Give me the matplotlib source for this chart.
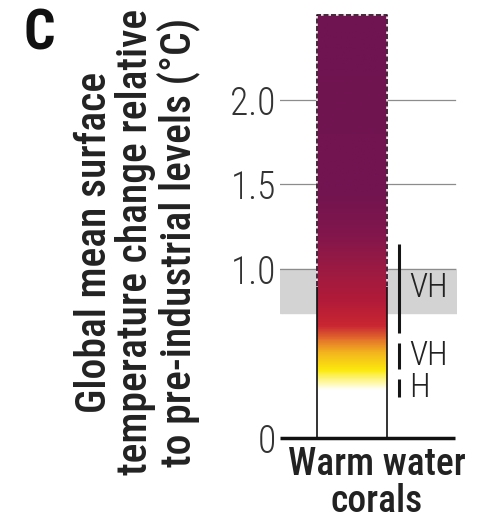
import matplotlib
matplotlib.use('agg')
import matplotlib.pyplot as plt
import numpy as np
from matplotlib.colors import LinearSegmentedColormap

plt.rcParams['font.family'] = ['Roboto Condensed', 'Archivo Narrow', 'DejaVu Sans']

# data
category = "Warm water\ncorals"
bar_top = 2.5
dashed_from = 0.9  # outline is dashed above this level
# colour transition levels (°C) of the burning-ember bar
ember_levels = [0.0, 0.28, 0.40, 0.50, 0.58, 0.66, 0.80, 1.00, 1.20, 1.45, 2.50]
ember_colors = ['#ffffff', '#ffffff', '#fbe90c', '#f3b51e', '#e2702a', '#c92731',
                '#b31b38', '#9b1a42', '#82164c', '#721450', '#6f1451']
# observed-impact band
band = (0.74, 1.0)
# confidence ranges (low, high, label)
conf_low = [0.62, 0.41, 0.24]
conf_high = [1.15, 0.56, 0.35]
conf_label = ["VH", "VH", "H"]
yticks = [0, 1.0, 1.5, 2.0]
ytick_labels = ["0", "1.0", "1.5", "2.0"]

W, H = 479, 520
fig = plt.figure(figsize=(W / 100, H / 100), dpi=100)

# axes in pixel terms: 0 °C at y=438 px, 169 px per °C
px_per_deg = 169
ymax = 2.6
ax = fig.add_axes([280 / W, (H - 438) / H, 177 / W, ymax * px_per_deg / H])
xmin, xmax = -1.03, 1.5
ax.set_xlim(xmin, xmax)
ax.set_ylim(0, ymax)
for s in ax.spines.values():
    s.set_visible(False)

# grey band and grid lines
ax.axhspan(band[0], band[1], color='#d3d3d3', zorder=0)
for y in yticks[1:]:
    ax.plot([xmin, xmax - 0.03], [y, y], color='#8c8c8c', lw=0.9, zorder=1)

# ember bar
cmap = LinearSegmentedColormap.from_list(
    'ember', list(zip(np.array(ember_levels) / bar_top, ember_colors)))
grad = np.linspace(0, bar_top, 500).reshape(-1, 1)
ax.imshow(grad, cmap=cmap, vmin=0, vmax=bar_top, origin='lower',
          extent=(-0.5, 0.5, 0, bar_top), aspect='auto', zorder=2,
          interpolation='bilinear')
# solid outline at the bottom
ax.plot([-0.5, -0.5], [0, dashed_from], color='#111111', lw=1.2, zorder=3)
ax.plot([0.5, 0.5], [0, dashed_from], color='#111111', lw=1.2, zorder=3)
# dashed outline above
xs = [-0.5, -0.5, 0.5, 0.5]
ys = [dashed_from, bar_top, bar_top, dashed_from]
ax.plot(xs, ys, color='#f3dbe6', lw=1.2, zorder=3)
ax.plot(xs, ys, color='#2a0a1e', lw=1.2, ls=(0, (3, 1.5)), zorder=4)

# confidence markers
for lo, hi, lab in zip(conf_low, conf_high, conf_label):
    ax.plot([0.67, 0.67], [lo, hi], color='#151515', lw=2.2,
            solid_capstyle='butt', zorder=5)
    ax.text(0.82, (lo + hi) / 2, lab, ha='left', va='center', fontsize=24,
            fontweight='light', color='#222222', zorder=5)

# baseline
ax.plot([xmin, xmax - 0.03], [0, 0], color='#111111', lw=2.5,
        solid_capstyle='butt', zorder=6, clip_on=False)

ax.set_yticks(yticks)
ax.set_yticklabels(ytick_labels, fontsize=27, fontweight='light', color='#333333')
ax.set_xticks([])
ax.tick_params(axis='y', length=0, pad=3)

# category label sits a bit right of the bar centre
fig.text(377 / W, 1 - 446 / H, category, ha='center', va='top',
         multialignment='center', fontsize=27, fontweight='medium',
         color='#222222', linespacing=1.0)

fig.text(137 / W, 1 - 242 / H,
         "Global mean surface\ntemperature change relative\nto pre-industrial levels (°C)",
         rotation=90, ha='center', va='center', multialignment='center',
         fontsize=30, fontweight='medium', color='#222222', linespacing=1.0)
fig.text(24 / W, 1 - 35 / H, "C", fontsize=40, fontweight='bold',
         ha='left', va='center', color='#111111')

fig.savefig('out.png', dpi=100)
